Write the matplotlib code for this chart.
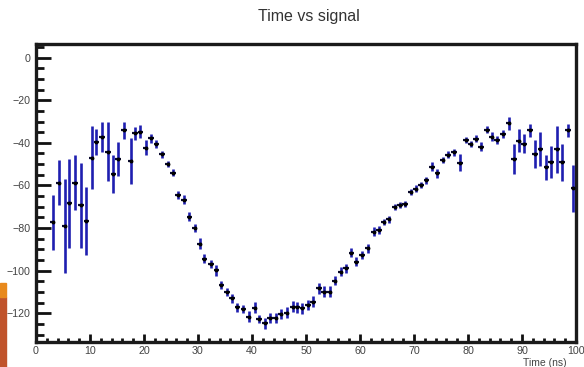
import matplotlib
matplotlib.use("Agg")
import matplotlib.pyplot as plt
from matplotlib.patches import Rectangle
from matplotlib.ticker import MultipleLocator

plt.rcParams['font.family'] = ['Liberation Sans', 'DejaVu Sans']
plt.rcParams['axes.unicode_minus'] = True

title = "Time vs signal"
xlabel = "Time (ns)"

time_ns = [3.1, 4.2, 5.3, 6.2, 7.2, 8.3, 9.3, 10.3, 11.2, 12.2,
           13.3, 14.3, 15.2, 16.3, 17.5, 18.3, 19.3, 20.3, 21.3, 22.3,
           23.3, 24.4, 25.4, 26.3, 27.4, 28.4, 29.4, 30.3, 31.2, 32.4,
           33.4, 34.3, 35.4, 36.3, 37.3, 38.4, 39.4, 40.5, 41.3, 42.4,
           43.3, 44.4, 45.3, 46.4, 47.5, 48.3, 49.3, 50.4, 51.3, 52.4,
           53.3, 54.4, 55.3, 56.4, 57.4, 58.4, 59.3, 60.4, 61.4, 62.5,
           63.5, 64.4, 65.3, 66.4, 67.4, 68.3, 69.4, 70.3, 71.3, 72.3,
           73.3, 74.3, 75.3, 76.3, 77.4, 78.5, 79.6, 80.5, 81.5, 82.4,
           83.5, 84.4, 85.4, 86.5, 87.5, 88.5, 89.4, 90.4, 91.5, 92.4,
           93.4, 94.5, 95.4, 96.5, 97.4, 98.5, 99.5]

signal = [-77.3, -58.7, -78.9, -68.4, -58.7, -69.3, -76.5, -46.9, -39.7, -37.1,
          -44.1, -54.6, -47.7, -34.0, -48.5, -35.5, -34.7, -42.4, -37.9, -40.5,
          -45.4, -50.0, -54.0, -64.5, -66.7, -74.6, -80.0, -87.3, -94.3, -96.9,
          -99.8, -106.7, -110.1, -113.0, -117.3, -117.9, -121.6, -117.4, -122.6, -124.7,
          -122.3, -122.3, -120.3, -119.7, -116.9, -117.2, -117.7, -116.1, -114.6, -108.3,
          -109.9, -109.9, -104.7, -100.5, -98.9, -91.5, -95.8, -92.6, -89.5, -81.7,
          -80.9, -77.3, -75.9, -70.2, -69.2, -68.7, -63.0, -61.5, -59.8, -57.6,
          -51.2, -54.3, -48.2, -45.5, -44.5, -49.4, -38.8, -40.6, -38.0, -41.8,
          -33.8, -37.1, -38.6, -35.8, -30.8, -47.7, -39.0, -40.5, -34.1, -45.2,
          -42.8, -51.5, -48.8, -43.0, -49.2, -34.2, -61.3]

signal_err = [13, 10.5, 22, 21, 13, 20, 16, 15, 6, 7,
              14, 9, 8, 4, 11, 3, 3, 3.5, 2, 2,
              1.5, 1.5, 1.5, 2, 2, 2, 2, 2.5, 2, 2,
              2.5, 2, 2, 2, 2, 2, 2.5, 2.5, 2, 2.5,
              2.5, 2.5, 2.5, 2.5, 2.5, 2.5, 2.5, 2.5, 2.5, 2.5,
              2.5, 2.5, 2, 2, 2, 2, 2, 2, 2, 2,
              2, 1.5, 1.5, 1.5, 1.5, 1.5, 1.5, 1.5, 1.5, 1.5,
              2, 2, 1.5, 1.5, 1.5, 4, 1.5, 1.5, 1.5, 2,
              1.5, 2, 2, 2, 3, 7, 5.5, 4.5, 3, 6.5,
              8, 6, 7.5, 11, 8.5, 3, 11]

time_err = [0.5] * len(time_ns)

W, H = 584, 367
fig = plt.figure(figsize=(W / 100, H / 100), dpi=100)
ax = fig.add_axes([36 / W, 1 - 342 / H, 540 / W, 298 / H])

ax.errorbar(time_ns, signal, yerr=signal_err, fmt='none', ecolor='#1f1fb0',
            elinewidth=1.9, capsize=0, zorder=3)
ax.errorbar(time_ns, signal, xerr=time_err, fmt='none', ecolor='#0a0a30',
            elinewidth=1.6, capsize=0, zorder=4)
ax.plot(time_ns, signal, linestyle='none', marker='o', markersize=1.8,
        color='#000000', zorder=5)

ax.set_xlim(0, 100)
ax.set_ylim(-133.5, 6.4)

ax.xaxis.set_major_locator(MultipleLocator(10))
ax.xaxis.set_minor_locator(MultipleLocator(2))
ax.yaxis.set_major_locator(MultipleLocator(20))
ax.yaxis.set_minor_locator(MultipleLocator(5))

for s in ax.spines.values():
    s.set_linewidth(2.4)
    s.set_color('#1a1a1a')

ax.tick_params(axis='y', which='major', direction='in', length=11, width=2.0,
               color='#111111', labelsize=7.7, labelcolor='#444444', pad=4)
ax.tick_params(axis='y', which='minor', direction='in', length=5.5, width=2.0,
               color='#111111')
ax.tick_params(axis='x', which='major', direction='in', length=5.5, width=2.0,
               color='#111111', labelsize=7.7, labelcolor='#444444', pad=3)
ax.tick_params(axis='x', which='minor', direction='in', length=2.8, width=2.0,
               color='#111111')

fig.text(309 / W, 1 - 16 / H, title, ha='center', va='center',
         fontsize=11.5, color='#333333')
fig.text(567 / W, 1 - 363 / H, xlabel, ha='right', va='center',
         fontsize=7.5, color='#444444')

fig.patches.append(Rectangle((0, 0), 6 / W, (367 - 297) / H,
                             transform=fig.transFigure, color='#c0532b',
                             zorder=0))
fig.patches.append(Rectangle((0, (367 - 297) / H), 6 / W, 14 / H,
                             transform=fig.transFigure, color='#e8891c',
                             zorder=0))

fig.savefig("out.png", dpi=100)
